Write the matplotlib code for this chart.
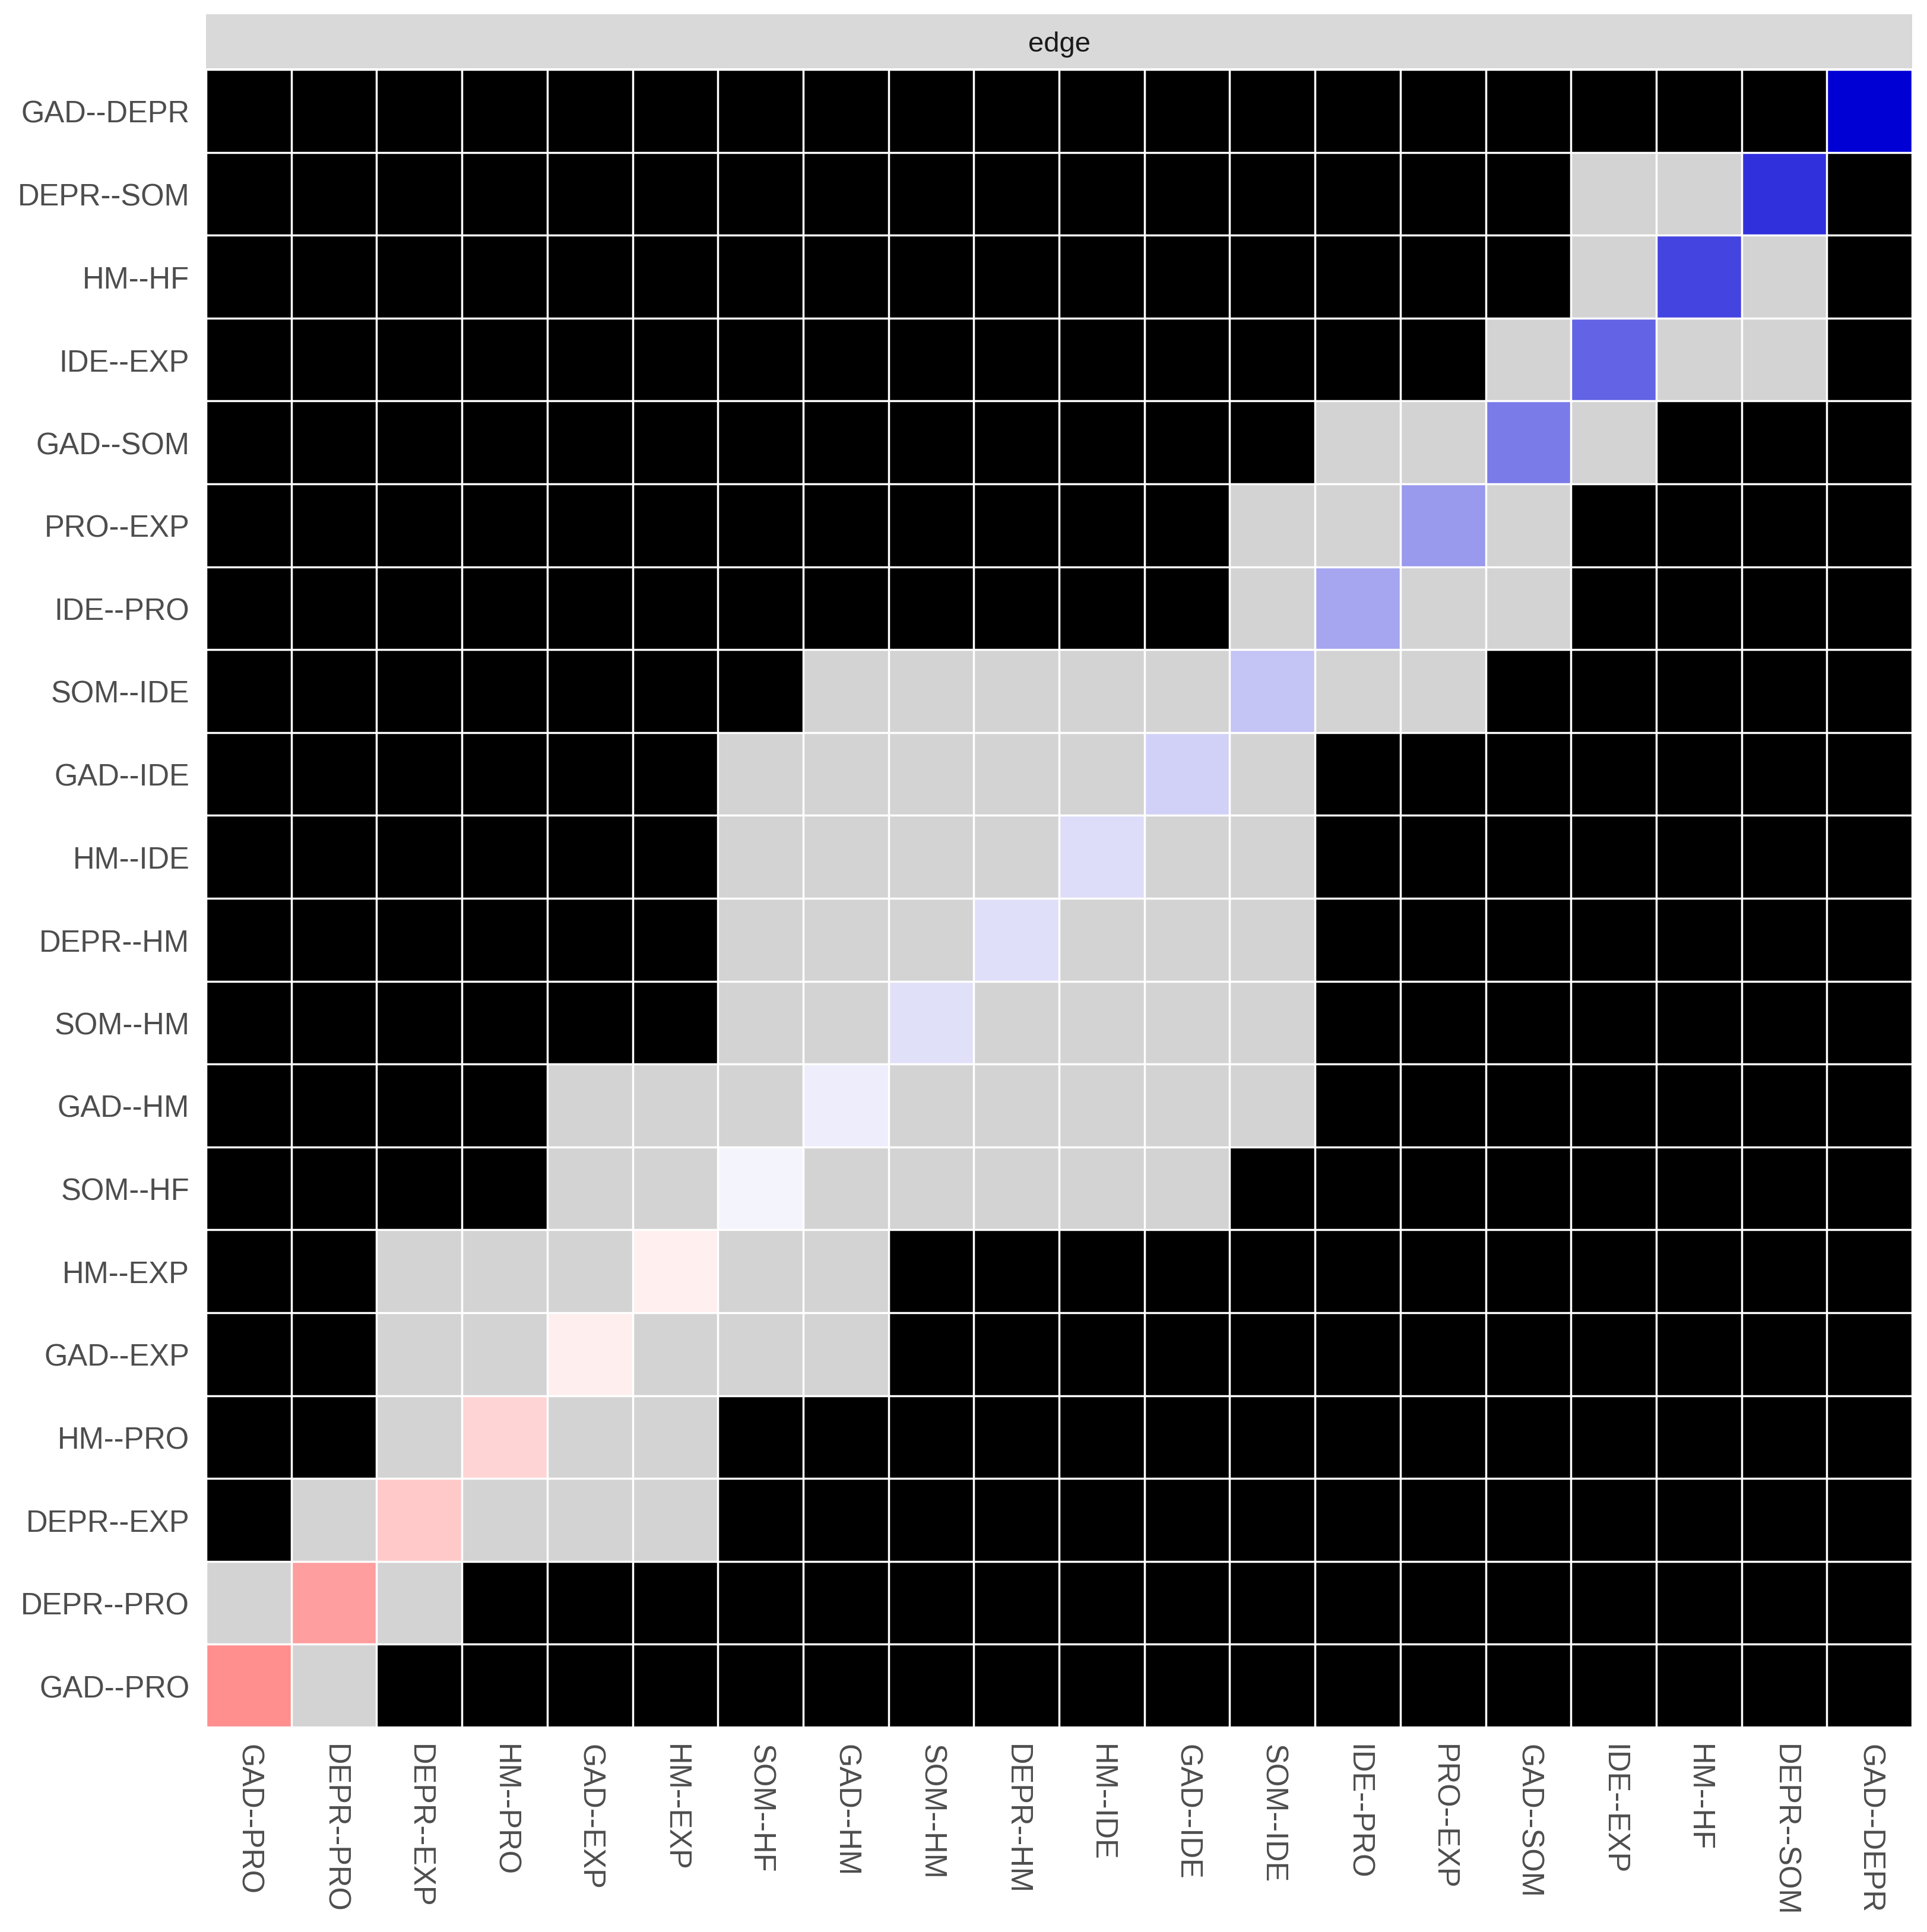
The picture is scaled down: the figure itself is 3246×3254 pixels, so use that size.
import matplotlib
matplotlib.use('Agg')
import matplotlib.pyplot as plt
from matplotlib.colors import to_rgb
import numpy as np

plt.rcParams['font.family'] = ['Liberation Sans', 'DejaVu Sans']

# edges sorted by estimated weight (bottom/left -> top/right)
edges = ['GAD--PRO', 'DEPR--PRO', 'DEPR--EXP', 'HM--PRO', 'GAD--EXP',
         'HM--EXP', 'SOM--HF', 'GAD--HM', 'SOM--HM', 'DEPR--HM',
         'HM--IDE', 'GAD--IDE', 'SOM--IDE', 'IDE--PRO', 'PRO--EXP',
         'GAD--SOM', 'IDE--EXP', 'HM--HF', 'DEPR--SOM', 'GAD--DEPR']
weights = [-0.44, -0.38, -0.21, -0.165, -0.065,
           -0.06, 0.04, 0.07, 0.12, 0.125,
           0.13, 0.18, 0.23, 0.35, 0.40,
           0.52, 0.61, 0.73, 0.81, 1.00]

# pairs whose difference is NOT significant (grey cells)
nonsig = [('GAD--PRO', 'DEPR--PRO'), ('DEPR--PRO', 'DEPR--EXP'),
          ('DEPR--EXP', 'HM--PRO'), ('DEPR--EXP', 'GAD--EXP'), ('DEPR--EXP', 'HM--EXP'),
          ('HM--PRO', 'GAD--EXP'), ('HM--PRO', 'HM--EXP'),
          ('GAD--EXP', 'HM--EXP'), ('GAD--EXP', 'SOM--HF'), ('GAD--EXP', 'GAD--HM'),
          ('HM--EXP', 'SOM--HF'), ('HM--EXP', 'GAD--HM'),
          ('SOM--HF', 'GAD--HM'), ('SOM--HF', 'SOM--HM'), ('SOM--HF', 'DEPR--HM'),
          ('SOM--HF', 'HM--IDE'), ('SOM--HF', 'GAD--IDE'),
          ('GAD--HM', 'SOM--HM'), ('GAD--HM', 'DEPR--HM'), ('GAD--HM', 'HM--IDE'),
          ('GAD--HM', 'GAD--IDE'), ('GAD--HM', 'SOM--IDE'),
          ('SOM--HM', 'DEPR--HM'), ('SOM--HM', 'HM--IDE'), ('SOM--HM', 'GAD--IDE'),
          ('SOM--HM', 'SOM--IDE'),
          ('DEPR--HM', 'HM--IDE'), ('DEPR--HM', 'GAD--IDE'), ('DEPR--HM', 'SOM--IDE'),
          ('HM--IDE', 'GAD--IDE'), ('HM--IDE', 'SOM--IDE'),
          ('GAD--IDE', 'SOM--IDE'),
          ('SOM--IDE', 'IDE--PRO'), ('SOM--IDE', 'PRO--EXP'),
          ('IDE--PRO', 'PRO--EXP'), ('IDE--PRO', 'GAD--SOM'),
          ('PRO--EXP', 'GAD--SOM'),
          ('GAD--SOM', 'IDE--EXP'),
          ('IDE--EXP', 'HM--HF'), ('IDE--EXP', 'DEPR--SOM'),
          ('HM--HF', 'DEPR--SOM')]

n = len(edges)
idx = {e: i for i, e in enumerate(edges)}
POS = np.array(to_rgb('#0000D5'))
NEG = np.array(to_rgb('#FF0000'))
WHITE = np.ones(3)
GREY = np.array(to_rgb('#D3D3D3'))

img = np.zeros((n, n, 3))  # black = significant
for a, b in nonsig:
    img[idx[a], idx[b]] = GREY
    img[idx[b], idx[a]] = GREY
wmax = max(abs(w) for w in weights)
for i, w in enumerate(weights):
    base = POS if w > 0 else NEG
    al = abs(w) / wmax
    img[i, i] = al * base + (1 - al) * WHITE

W, H = 3246, 3255
fig = plt.figure(figsize=(W / 100, H / 100), dpi=100)
fig.patch.set_facecolor('white')
ax = fig.add_axes([347 / W, 1 - 2910 / H, (3221 - 347) / W, (2910 - 118) / H])
ax.imshow(img, origin='lower', extent=(0, n, 0, n), aspect='auto',
          interpolation='nearest')
for k in range(n + 1):
    ax.axhline(k, color='white', lw=2.5)
    ax.axvline(k, color='white', lw=2.5)
ax.set_xlim(0, n)
ax.set_ylim(0, n)
for s in ax.spines.values():
    s.set_visible(False)

ax.set_xticks(np.arange(n) + 0.5)
ax.set_yticks(np.arange(n) + 0.5)
ax.set_xticklabels(edges, rotation=-90, fontsize=36.5, color='#4D4D4D')
ax.set_yticklabels(edges, fontsize=36.5, color='#4D4D4D')
ax.tick_params(axis='both', length=0)
ax.tick_params(axis='x', pad=20)
ax.tick_params(axis='y', pad=20)

# facet strip
sax = fig.add_axes([347 / W, 1 - 116 / H, (3221 - 347) / W, (116 - 25) / H])
sax.set_facecolor('#D9D9D9')
sax.set_xticks([])
sax.set_yticks([])
for s in sax.spines.values():
    s.set_visible(False)
sax.text(0.5, 0.45, 'edge', ha='center', va='center', fontsize=34,
         color='#1A1A1A', transform=sax.transAxes)

fig.savefig('out.png', dpi=100, facecolor='white')
